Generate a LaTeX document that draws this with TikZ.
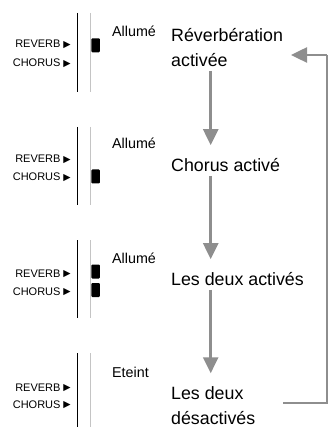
\documentclass[tikz,border=0pt]{standalone}
\usepackage{fontspec}
\setmainfont{Liberation Sans}
\newfontfamily\symfont{DejaVu Sans}
\usetikzlibrary{arrows.meta,calc}
\definecolor{flowgray}{HTML}{8E8E8E}
\definecolor{panelgray}{HTML}{C4C4C4}
\newcommand{\tri}{\hspace{3pt}\raisebox{0.2pt}{\symfont\fontsize{9.5}{10}\selectfont ▶}}
\tikzset{
  big/.style={font=\fontsize{17.8}{25}\selectfont, align=left, anchor=west, inner sep=0pt},
  state/.style={font=\fontsize{14.3}{16}\selectfont, anchor=base west, inner sep=0pt},
  btn/.style={font=\fontsize{11}{12}\selectfont, anchor=base east, inner sep=0pt},
  led/.style={fill=black, rounded corners=1pt, minimum width=8.5pt, minimum height=14pt, inner sep=0pt, draw=none},
  flow/.style={draw=flowgray, line width=2.5pt, -{Triangle[length=16pt,width=15pt]}},
  ret/.style={draw=flowgray, line width=2.5pt},
  blk/.style={draw=black, line width=1pt},
  gry/.style={draw=panelgray, line width=1pt}
}
\begin{document}
\begin{tikzpicture}[x=1pt,y=-1pt]
\useasboundingbox (0,0) rectangle (328,427);
% panel lines
\coordinate (p1t) at (77,13);  \coordinate (p1b) at (77,92);
\coordinate (g1t) at (90,13);  \coordinate (g1b) at (90,92);
\coordinate (p2t) at (77,127); \coordinate (p2b) at (77,205);
\coordinate (g2t) at (90,127); \coordinate (g2b) at (90,205);
\coordinate (p3t) at (77,240); \coordinate (p3b) at (77,318);
\coordinate (g3t) at (90,240); \coordinate (g3b) at (90,318);
\coordinate (p4t) at (77,353); \coordinate (p4b) at (77,427);
\coordinate (g4t) at (90,353); \coordinate (g4b) at (90,427);
\draw[blk] (p1t) -- (p1b); \draw[gry] (g1t) -- (g1b);
\draw[blk] (p2t) -- (p2b); \draw[gry] (g2t) -- (g2b);
\draw[blk] (p3t) -- (p3b); \draw[gry] (g3t) -- (g3b);
\draw[blk] (p4t) -- (p4b); \draw[gry] (g4t) -- (g4b);
% button labels
\node[btn] (rv1) at (71,48) {REVERB\tri};
\node[btn] (ch1) at (71,66.5) {CHORUS\tri};
\node[btn] (rv2) at (71,163) {REVERB\tri};
\node[btn] (ch2) at (71,181) {CHORUS\tri};
\node[btn] (rv3) at (71,277) {REVERB\tri};
\node[btn] (ch3) at (71,295) {CHORUS\tri};
\node[btn] (rv4) at (71,391) {REVERB\tri};
\node[btn] (ch4) at (71,408) {CHORUS\tri};
% leds
\node[led] (l1) at (95.7,45.3) {};
\node[led] (l2) at (95.7,176.5) {};
\node[led] (l3a) at (95.7,271.5) {};
\node[led] (l3b) at (95.7,290) {};
% states
\node[state] (s1) at (112,37) {Allumé};
\node[state] (s2) at (112,149) {Allumé};
\node[state] (s3) at (112,263) {Allumé};
\node[state] (s4) at (112,377) {Eteint};
% main labels
\node[big] (m1) at (171,47.5) {Réverbération\\activée};
\node[big] (m2) at (171,165) {Chorus activé};
\node[big] (m3) at (171,279) {Les deux activés};
\node[big] (m4) at (171,405.5) {Les deux\\désactivés};
\coordinate (ax) at (210.7,0);
\coordinate (rx) at (327,0);
\draw[flow] (ax |- m1.south) ++(0,4) -- ($(ax |- m2.north)+(0,-13)$);
\draw[flow] (ax |- m2.south) ++(0,4) -- ($(ax |- m3.north)+(0,-13)$);
\draw[flow] (ax |- m3.south) ++(0,4) -- ($(ax |- m4.north)+(0,-13)$);
\coordinate (rb) at (283,403);
\coordinate (rt) at (291,55);
\draw[ret] (rb) -| (rx |- rt);
\draw[flow] (rx |- rt) -- (rt);
\end{tikzpicture}
\end{document}
